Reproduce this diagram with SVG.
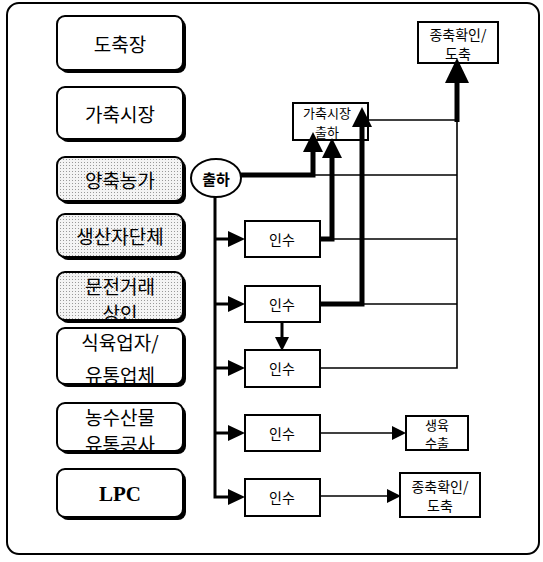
<svg xmlns="http://www.w3.org/2000/svg" width="543" height="562" viewBox="0 0 543 562">
<style>
.kr{font-family:"Noto Sans CJK KR","Noto Sans",sans-serif;fill:#000;text-anchor:middle;dominant-baseline:central}
.big{font-size:19px}
.sm{font-size:14px}
.lpc{font-family:"Liberation Serif",serif;font-weight:bold;font-size:21px;fill:#000;text-anchor:middle;dominant-baseline:central}
.shadow{fill:#000}
.box{stroke:#000;stroke-width:2}
.wf{fill:#fff}
.gf{fill:url(#dots)}
.rect{fill:#fff;stroke:#000;stroke-width:2}
.thick{fill:none;stroke:#000;stroke-width:5;stroke-linejoin:miter}
.mid{fill:none;stroke:#000;stroke-width:3}
.thin{fill:none;stroke:#000;stroke-width:1.6}
</style>
<defs>
<pattern id="dots" width="3" height="3" patternUnits="userSpaceOnUse">
<rect width="3" height="3" fill="#f4f4f4"/>
<rect width="1" height="1" fill="#9a9a9a"/>
</pattern>
<marker id="mBig" viewBox="0 0 20 20" refX="0" refY="10" markerWidth="20" markerHeight="20" markerUnits="userSpaceOnUse" orient="auto"><path d="M0,0 L20,10 L0,20 Z" fill="#000"/></marker>
<marker id="mLarge" viewBox="0 0 25 24" refX="0" refY="12" markerWidth="25" markerHeight="24" markerUnits="userSpaceOnUse" orient="auto"><path d="M0,0 L25,12 L0,24 Z" fill="#000"/></marker>
<marker id="mBranch" viewBox="0 0 17 16" refX="0" refY="8" markerWidth="17" markerHeight="16" markerUnits="userSpaceOnUse" orient="auto"><path d="M0,0 L17,8 L0,16 Z" fill="#000"/></marker>
<marker id="mThin" viewBox="0 0 14 14" refX="0" refY="7" markerWidth="14" markerHeight="14" markerUnits="userSpaceOnUse" orient="auto"><path d="M0,0 L14,7 L0,14 Z" fill="#000"/></marker>
</defs>
<rect width="543" height="562" fill="#fff"/>
<rect x="7" y="3" width="532" height="551" rx="12" fill="none" stroke="#000" stroke-width="2"/>

<g id="n-dochukjang"><rect class="shadow" x="60" y="19" width="126" height="54" rx="8"/><rect class="box wf" x="57" y="16" width="126" height="54" rx="8"/><text class="kr big" x="120" y="43">도축장</text></g>
<g id="n-gachuksijang"><rect class="shadow" x="60" y="90" width="126" height="52" rx="8"/><rect class="box wf" x="57" y="87" width="126" height="52" rx="8"/><text class="kr big" x="120" y="113">가축시장</text></g>
<g id="n-yangchuk"><rect class="shadow" x="60" y="160" width="126" height="44" rx="8"/><rect class="box gf" x="57" y="157" width="126" height="44" rx="8"/><text class="kr big" x="120" y="179">양축농가</text></g>
<g id="n-saengsanja"><rect class="shadow" x="60" y="217" width="126" height="43" rx="8"/><rect class="box gf" x="57" y="214" width="126" height="43" rx="8"/><text class="kr big" x="120" y="235">생산자단체</text></g>
<g id="n-munjeon"><rect class="shadow" x="60" y="275" width="126" height="48" rx="8"/><rect class="box gf" x="57" y="272" width="126" height="48" rx="8"/><text class="kr big" x="120" y="285">문전거래</text><text class="kr big" x="120" y="312">상인</text></g>
<g id="n-sigyuk"><rect class="shadow" x="60" y="331" width="126" height="56" rx="8"/><rect class="box wf" x="57" y="328" width="126" height="56" rx="8"/><text class="kr big" x="120" y="341">식육업자/</text><text class="kr big" x="120" y="374">유통업체</text></g>
<g id="n-nongsusan"><rect class="shadow" x="60" y="406" width="126" height="48" rx="8"/><rect class="box wf" x="57" y="403" width="126" height="48" rx="8"/><text class="kr big" x="120" y="416">농수산물</text><text class="kr big" x="120" y="443">유통공사</text></g>
<g id="n-lpc"><rect class="shadow" x="60" y="472" width="126" height="48" rx="8"/><rect class="box wf" x="57" y="469" width="126" height="48" rx="8"/><text class="lpc" x="120" y="494">LPC</text></g>

<g id="n-chulha"><ellipse cx="216" cy="178" rx="25" ry="19" fill="#fff" stroke="#000" stroke-width="2"/><text class="kr" x="216" y="178" font-size="15" font-weight="bold">출하</text></g>

<g id="n-insu1"><rect class="rect" x="245" y="221" width="75" height="36"/><text class="kr sm" x="282" y="239">인수</text></g>
<g id="n-insu2"><rect class="rect" x="245" y="286" width="75" height="36"/><text class="kr sm" x="282" y="304">인수</text></g>
<g id="n-insu3"><rect class="rect" x="245" y="350" width="75" height="37"/><text class="kr sm" x="282" y="368">인수</text></g>
<g id="n-insu4"><rect class="rect" x="245" y="415" width="75" height="36"/><text class="kr sm" x="282" y="433">인수</text></g>
<g id="n-insu5"><rect class="rect" x="245" y="479" width="75" height="37"/><text class="kr sm" x="282" y="497">인수</text></g>

<g id="n-market-out"><rect class="rect" x="293" y="103" width="75" height="37"/><text class="kr" font-size="13" x="327" y="112">가축시장</text><text class="kr" font-size="13" x="327" y="131">출하</text></g>
<g id="n-slaughter-top"><rect class="rect" x="418" y="22" width="80" height="41"/><text class="kr sm" x="458" y="34">종축확인/</text><text class="kr sm" x="458" y="53">도축</text></g>
<g id="n-export"><rect class="rect" x="406" y="416" width="62" height="34"/><text class="kr" font-size="13" x="437" y="424">생육</text><text class="kr" font-size="13" x="437" y="442">수출</text></g>
<g id="n-slaughter-bot"><rect class="rect" x="400" y="473" width="80" height="44"/><text class="kr sm" x="440" y="486">종축확인/</text><text class="kr sm" x="440" y="505">도축</text></g>

<g id="connectors">
<path class="mid" d="M215,197 V497 H228" marker-end="url(#mBranch)"/>
<path class="mid" d="M215,239 H228" marker-end="url(#mBranch)"/>
<path class="mid" d="M215,304 H228" marker-end="url(#mBranch)"/>
<path class="mid" d="M215,368 H228" marker-end="url(#mBranch)"/>
<path class="mid" d="M215,433 H228" marker-end="url(#mBranch)"/>
<path class="thin" d="M313,175 H457"/>
<path class="thin" d="M332,239 H457"/>
<path class="thin" d="M362,304 H457"/>
<path class="thin" d="M362,120 H457"/>
<path class="thin" d="M320,368 H457 V120" stroke-width="2.2"/>
<path class="thick" d="M241,175 H313 V152" marker-end="url(#mBig)"/>
<path class="thick" d="M320,239 H332 V158" marker-end="url(#mBig)"/>
<path class="thick" d="M320,304 H362 V127" marker-end="url(#mBig)"/>
<path class="thick" d="M457,122 V83" marker-end="url(#mLarge)"/>
<path class="mid" d="M282,322 V337" stroke-width="2" marker-end="url(#mThin)"/>
<path class="thin" d="M320,433 H392" marker-end="url(#mThin)"/>
<path class="thin" d="M320,496 H387" marker-end="url(#mThin)"/>
</g>
</svg>
